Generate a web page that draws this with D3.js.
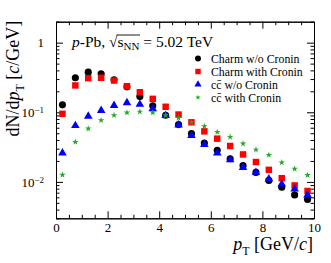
<!DOCTYPE html>
<html>
<head>
<meta charset="utf-8">
<script src="https://cdn.jsdelivr.net/npm/d3@7"></script>
<style>
  body { margin: 0; background: #fff; }
  svg text { font-family: "Liberation Serif", "DejaVu Serif", serif; fill: #000; }
</style>
</head>
<body>
<div id="chart"></div>
<script>
  // pT bin centres [GeV/c]
  const ptBins = [0.25, 0.75, 1.25, 1.75, 2.25, 2.75, 3.25, 3.75, 4.25, 4.75,
                  5.25, 5.75, 6.25, 6.75, 7.25, 7.75, 8.25, 8.75, 9.25, 9.75];

  // dN/dpT values
  const charmNoCronin = [0.128, 0.313, 0.377, 0.357, 0.293, 0.232, 0.168, 0.124, 0.0906, 0.0665,
                         0.0493, 0.0362, 0.0284, 0.0215, 0.0171, 0.0137, 0.0105, 0.0084, 0.0065, 0.0056];
  const charmCronin = [0.095, 0.243, 0.309, 0.313, 0.286, 0.237, 0.194, 0.156, 0.120, 0.0927,
                       0.0718, 0.0532, 0.0418, 0.0328, 0.0248, 0.0193, 0.0149, 0.0113, 0.0089, 0.0074];
  const ccNoCronin = [0.026, 0.0643, 0.0876, 0.106, 0.125, 0.137, 0.130, 0.112, 0.0896, 0.0658,
                      0.0462, 0.0343, 0.026, 0.0208, 0.0161, 0.0137, 0.011, 0.0093, 0.0079, 0.0065];
  const ccCronin = [0.0126, 0.0374, 0.0582, 0.0767, 0.0906, 0.099, 0.102, 0.099, 0.0906, 0.083,
                    0.072, 0.063, 0.052, 0.0442, 0.0354, 0.029, 0.0243, 0.019, 0.0154, 0.0125];

  const xTicks = [0, 2, 4, 6, 8, 10];
  const xMinorTicks = [0.5, 1, 1.5, 2.5, 3, 3.5, 4.5, 5, 5.5, 6.5, 7, 7.5, 8.5, 9, 9.5];
  const yTicks = [0.01, 0.1, 1];
  const yTickLabels = [['10', '\u22122'], ['10', '\u22121'], ['1', '']];
  const yMinorTicks = [0.003, 0.004, 0.005, 0.006, 0.007, 0.008, 0.009,
                       0.02, 0.03, 0.04, 0.05, 0.06, 0.07, 0.08, 0.09,
                       0.2, 0.3, 0.4, 0.5, 0.6, 0.7, 0.8, 0.9, 2];

  const series = [
    { name: 'Charm w/o Cronin', values: charmNoCronin, color: '#000000', symbol: d3.symbolCircle, size: 40 },
    { name: 'Charm with Cronin', values: charmCronin, color: '#ff0000', symbol: d3.symbolSquare, size: 42 },
    { name: 'cc\u0304 w/o Cronin', values: ccNoCronin, color: '#0000ff', symbol: d3.symbolTriangle, size: 32 },
    { name: 'cc\u0304 with Cronin', values: ccCronin, color: '#22a822', symbol: d3.symbolStar, size: 13 }
  ];

  const W = 331, H = 263;
  const m = { top: 21.7, right: 17, bottom: 44.7, left: 56 };

  const svg = d3.select('#chart').append('svg')
    .attr('width', W).attr('height', H);
  svg.append('rect').attr('width', W).attr('height', H).attr('fill', '#fff');

  const x = d3.scaleLinear().domain([0, 10]).range([m.left, W - m.right]);
  const y = d3.scaleLog().domain([0.003, 2]).range([H - m.bottom, m.top]);

  // axes: ROOT style, ticks pointing inwards on all four sides
  const major = 7, minor = 3.5;
  function styleAxis(g) {
    g.selectAll('path.domain').attr('stroke', '#000').attr('stroke-width', 1);
    g.selectAll('.tick line').attr('stroke', '#000').attr('stroke-width', 1);
  }

  svg.append('g').attr('transform', `translate(0,${H - m.bottom})`)
    .call(d3.axisBottom(x).tickValues(xTicks).tickSize(-major).tickSizeOuter(0).tickPadding(4).tickFormat(d3.format('d')))
    .call(styleAxis)
    .call(g => g.selectAll('text').attr('font-size', 13));
  svg.append('g').attr('transform', `translate(0,${H - m.bottom})`)
    .call(d3.axisBottom(x).tickValues(xMinorTicks).tickSize(-minor).tickSizeOuter(0).tickFormat(''))
    .call(styleAxis);
  svg.append('g').attr('transform', `translate(0,${m.top})`)
    .call(d3.axisTop(x).tickValues(xTicks).tickSize(-major).tickSizeOuter(0).tickFormat(''))
    .call(styleAxis);
  svg.append('g').attr('transform', `translate(0,${m.top})`)
    .call(d3.axisTop(x).tickValues(xMinorTicks).tickSize(-minor).tickSizeOuter(0).tickFormat(''))
    .call(styleAxis);

  const yAxisG = svg.append('g').attr('transform', `translate(${m.left},0)`)
    .call(d3.axisLeft(y).tickValues(yTicks).tickSize(-major).tickSizeOuter(0).tickPadding(12).tickFormat(''))
    .call(styleAxis);
  yAxisG.selectAll('.tick text')
    .attr('font-size', 13)
    .each(function (d, i) {
      const t = d3.select(this);
      t.append('tspan').text(yTickLabels[i][0]);
      if (yTickLabels[i][1]) {
        t.append('tspan').attr('font-size', 9).attr('dy', '-0.45em').text(yTickLabels[i][1]);
      }
    });
  svg.append('g').attr('transform', `translate(${m.left},0)`)
    .call(d3.axisLeft(y).tickValues(yMinorTicks).tickSize(-minor).tickSizeOuter(0).tickFormat(''))
    .call(styleAxis);
  svg.append('g').attr('transform', `translate(${W - m.right},0)`)
    .call(d3.axisRight(y).tickValues(yTicks).tickSize(-major).tickSizeOuter(0).tickFormat(''))
    .call(styleAxis);
  svg.append('g').attr('transform', `translate(${W - m.right},0)`)
    .call(d3.axisRight(y).tickValues(yMinorTicks).tickSize(-minor).tickSizeOuter(0).tickFormat(''))
    .call(styleAxis);

  // markers
  series.forEach(s => {
    svg.append('g').selectAll('path')
      .data(s.values)
      .join('path')
      .attr('transform', (d, i) => `translate(${x(ptBins[i])},${y(d)})`)
      .attr('d', d3.symbol().type(s.symbol).size(s.size))
      .attr('fill', s.color);
  });

  // legend
  const leg = svg.append('g').attr('transform', 'translate(198,58.5)');
  series.forEach((s, i) => {
    leg.append('path')
      .attr('transform', `translate(0,${i * 13})`)
      .attr('d', d3.symbol().type(s.symbol).size(s.size * 0.7))
      .attr('fill', s.color);
    leg.append('text')
      .attr('x', 13).attr('y', i * 13 + 4)
      .attr('font-size', 11.8)
      .text(s.name);
  });

  // title: p-Pb, sqrt(s_NN) = 5.02 TeV
  const title = svg.append('text').attr('x', 72).attr('y', 47).attr('font-size', 15.5);
  title.append('tspan').attr('font-style', 'italic').text('p');
  title.append('tspan').text('-Pb, \u221A');
  const sq = title.append('tspan').text('s');
  const sub = title.append('tspan').attr('font-size', 11).attr('dy', 3).text('NN');
  title.append('tspan').attr('dy', -3).text(' = 5.02 TeV');
  const x0 = sq.node().getStartPositionOfChar(0).x;
  const x1 = sub.node().getEndPositionOfChar(1).x;
  svg.append('line')
    .attr('x1', x0 - 1).attr('x2', x1 + 0.5)
    .attr('y1', 47 - 12).attr('y2', 47 - 12)
    .attr('stroke', '#000').attr('stroke-width', 0.9);

  // axis titles
  const xt = svg.append('text')
    .attr('x', W - m.right - 1).attr('y', 250)
    .attr('text-anchor', 'end')
    .attr('font-size', 18);
  xt.append('tspan').attr('font-style', 'italic').text('p');
  xt.append('tspan').attr('font-size', 12).attr('dy', 4.5).text('T');
  xt.append('tspan').attr('dy', -4.5).text(' [GeV/');
  xt.append('tspan').attr('font-style', 'italic').text('c');
  xt.append('tspan').text(']');

  const yt = svg.append('text')
    .attr('transform', `translate(19,${m.top - 1}) rotate(-90)`)
    .attr('text-anchor', 'end')
    .attr('font-size', 18);
  yt.append('tspan').text('dN/d');
  yt.append('tspan').attr('font-style', 'italic').text('p');
  yt.append('tspan').attr('font-size', 12).attr('dy', 4.5).text('T');
  yt.append('tspan').attr('dy', -4.5).text(' [');
  yt.append('tspan').attr('font-style', 'italic').text('c');
  yt.append('tspan').text('/GeV]');
</script>
</body>
</html>
